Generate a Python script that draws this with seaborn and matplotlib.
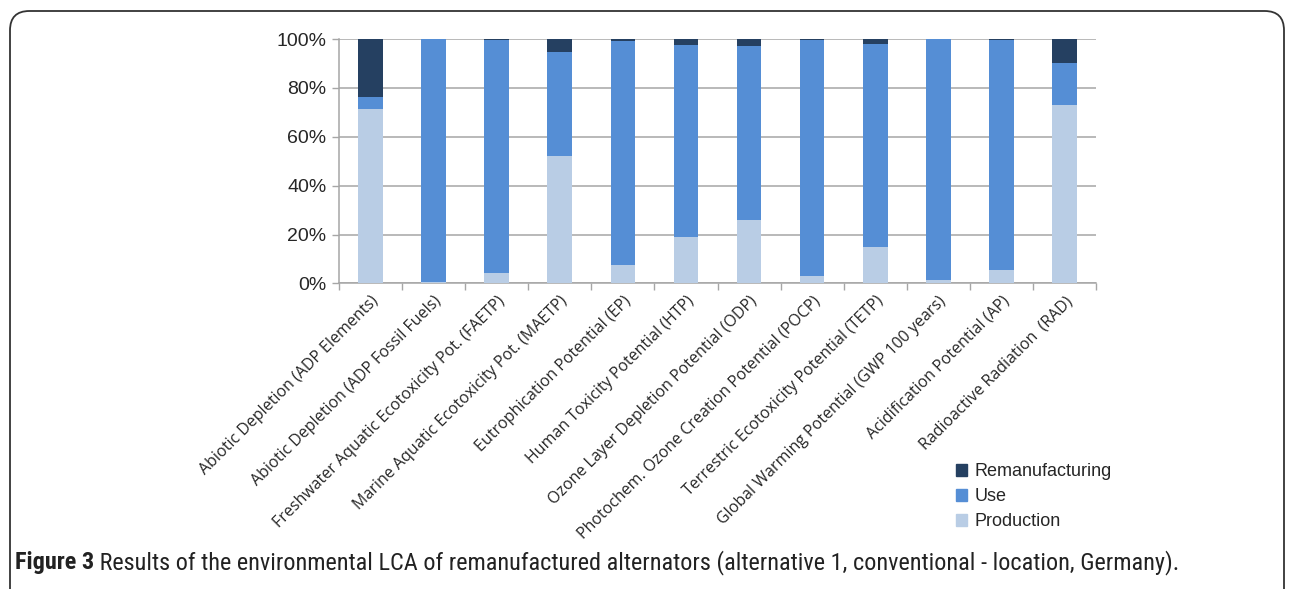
import numpy as np
import pandas as pd
import seaborn as sns
import matplotlib.pyplot as plt
from matplotlib import font_manager
from matplotlib.patches import FancyBboxPatch, Patch
from matplotlib.ticker import FuncFormatter, FixedLocator


# Impact categories and the share (%) of each life cycle phase
categories = [
    'Abiotic Depletion (ADP Elements)',
    'Abiotic Depletion (ADP Fossil Fuels)',
    'Freshwater Aquatic Ecotoxicity Pot. (FAETP)',
    'Marine Aquatic Ecotoxicity Pot. (MAETP)',
    'Eutrophication Potential (EP)',
    'Human Toxicity Potential (HTP)',
    'Ozone Layer Depletion Potential (ODP)',
    'Photochem. Ozone Creation Potential (POCP)',
    'Terrestric Ecotoxicity Potential (TETP)',
    'Global Warming Potential (GWP 100 years)',
    'Acidification Potential (AP)',
    'Radioactive Radiation  (RAD)',
]
production = [71.2, 0.7, 4.4, 52.1, 7.4, 19.1, 25.9, 3.0, 15.1, 1.5, 5.5, 73.0]
use = [5.2, 99.1, 95.2, 42.6, 91.6, 78.4, 71.2, 96.6, 82.9, 98.4, 94.1, 17.3]
remanufacturing = [23.6, 0.2, 0.4, 5.3, 1.0, 2.5, 2.9, 0.4, 2.0, 0.1, 0.4, 9.7]

colors = {'Production': '#b9cde5', 'Use': '#558ed5', 'Remanufacturing': '#254061'}

df = pd.DataFrame({'category': categories, 'Production': production,
                   'Use': use, 'Remanufacturing': remanufacturing})
df['use_top'] = df['Production'] + df['Use']
df['reman_top'] = df['use_top'] + df['Remanufacturing']


def pick_font(names):
    for n in names:
        try:
            font_manager.findfont(n, fallback_to_default=False)
            return n
        except Exception:
            pass
    return 'DejaVu Sans'


sns.set_style('white')
plt.rcParams['font.family'] = ['Liberation Sans', 'DejaVu Sans']
label_font = pick_font(['Open Sans', 'Lato', 'DejaVu Sans'])
caption_font = pick_font(['Liberation Sans Narrow', 'Roboto Condensed', 'Roboto', 'DejaVu Sans'])

W, H = 1290, 589
fig = plt.figure(figsize=(W / 100, H / 100), dpi=100)
ax = fig.add_axes([339 / W, 1 - 283.5 / H, (1096 - 339) / W, (283.5 - 39) / H])

# Stacked bars: draw cumulative totals, tallest first
for col, key in [('reman_top', 'Remanufacturing'), ('use_top', 'Use'), ('Production', 'Production')]:
    sns.barplot(data=df, x='category', y=col, color=colors[key], width=0.39,
                saturation=1, ax=ax, zorder=3, linewidth=0)

ax.set_ylim(0, 100)
ax.set_xlim(-0.5, len(categories) - 0.5)
ax.set_xlabel('')
ax.set_ylabel('')
ax.set_yticks(np.arange(0, 101, 20))
ax.yaxis.set_major_formatter(FuncFormatter(lambda v, p: f'{v:.0f}%'))
ax.grid(axis='y', color='#a6a6a6', lw=1.1, zorder=0)
ax.tick_params(axis='y', which='major', labelsize=14, length=5, width=1,
               color='#a6a6a6', pad=4, left=True)

# x tick marks between categories, labels at category centres
ax.xaxis.set_minor_locator(FixedLocator(np.arange(-0.5, len(categories), 1)))
ax.tick_params(axis='x', which='minor', length=5, width=1, color='#a6a6a6', bottom=True)
ax.tick_params(axis='x', which='major', length=0, pad=7)
ax.set_xticks(range(len(categories)))
ax.set_xticklabels(categories, rotation=45, ha='right', rotation_mode='anchor',
                   fontsize=11.5, family=label_font)

for side in ['top', 'right']:
    ax.spines[side].set_visible(False)
for side in ['left', 'bottom']:
    ax.spines[side].set_color('#a6a6a6')
    ax.spines[side].set_linewidth(1.1)

handles = [Patch(color=colors[k]) for k in ['Remanufacturing', 'Use', 'Production']]
fig.legend(handles, ['Remanufacturing', 'Use', 'Production'], loc='upper left',
           bbox_to_anchor=(940 / W, 1 - 447 / H), frameon=False, fontsize=13,
           handlelength=0.6, handleheight=0.6, handletextpad=0.4, labelspacing=0.45)

# Rounded frame open at the bottom
frame = FancyBboxPatch((10 / W, -0.2), (1284 - 10) / W, 0.2 + 1 - 11 / H,
                       boxstyle='round,pad=0,rounding_size=0.015',
                       transform=fig.transFigure, fill=False, ec='#333333', lw=1.3,
                       mutation_aspect=W / H, clip_on=False)
fig.patches.append(frame)

# Caption
renderer = fig.canvas.get_renderer()
cap_y = 1 - 563 / H
t1 = fig.text(15 / W, cap_y, 'Figure 3', fontsize=14, fontweight='bold',
              family=caption_font, va='center', color='#222222')
bb = t1.get_window_extent(renderer)
rest = (' Results of the environmental LCA of remanufactured alternators '
        '(alternative 1, conventional - location, Germany).')
t2 = fig.text(bb.x1 / W, cap_y, rest, fontsize=14, family=caption_font,
              va='center', color='#222222')
# scale caption so it spans the same width as the original
bb2 = t2.get_window_extent(renderer)
scale = (1187 - 15) / (bb2.x1 - bb.x0)
t1.set_fontsize(14 * scale)
t2.set_fontsize(14 * scale)
bb = t1.get_window_extent(renderer)
t2.set_x(bb.x1 / W)

fig.savefig('out.png', dpi=100)
